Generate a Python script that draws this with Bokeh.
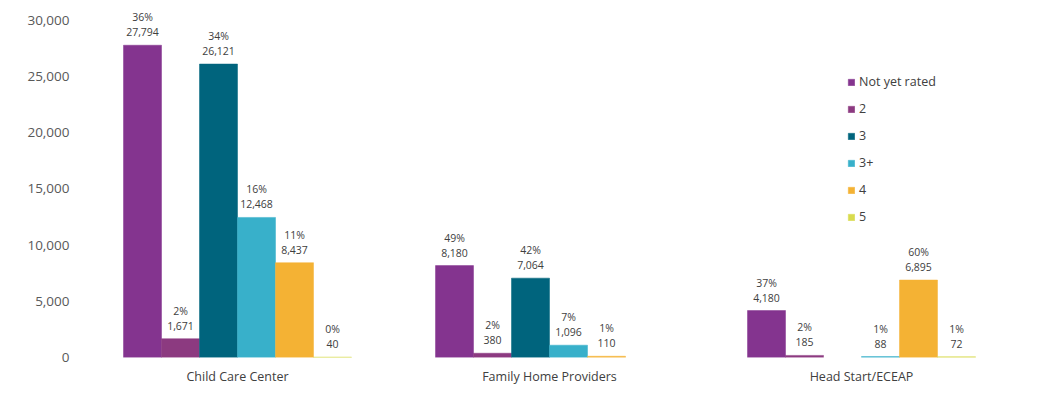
from bokeh.plotting import figure
from bokeh.models import (ColumnDataSource, FactorRange, Range1d, Legend, LegendItem,
                          FixedTicker, NumeralTickFormatter)
from bokeh.transform import dodge
from bokeh.core.properties import value
from bokeh.embed import file_html
from bokeh.resources import INLINE

groups = ["Child Care Center", "Family Home Providers", "Head Start/ECEAP"]
series = ["Not yet rated", "2", "3", "3+", "4", "5"]
not_yet_rated = [27794, 8180, 4180]
rating_2 = [1671, 380, 185]
rating_3 = [26121, 7064, 0]
rating_3plus = [12468, 1096, 88]
rating_4 = [8437, 110, 6895]
rating_5 = [40, 0, 72]
y_ticks = [0, 5000, 10000, 15000, 20000, 25000, 30000]

colors = ["#84348F", "#8C3A80", "#00647D", "#38B0CA", "#F4B234", "#D8DB4E"]
values_by_series = [not_yet_rated, rating_2, rating_3, rating_3plus, rating_4, rating_5]

totals = [sum(v[i] for v in values_by_series) for i in range(len(groups))]

FONT = "Open Sans"
p = figure(width=1023, height=387, output_backend="svg", toolbar_location=None,
           x_range=FactorRange(*groups, range_padding=0),
           y_range=Range1d(0, 30887),
           min_border_left=81, min_border_right=6, min_border_top=10, min_border_bottom=29)

bar_w = 38 / 312
items = []
for k, (name, vals, col) in enumerate(zip(series, values_by_series, colors)):
    off = (k - 2.5) * bar_w
    pct = [f"{round(100 * v / t)}%" if v > 0 else "" for v, t in zip(vals, totals)]
    num = [f"{v:,}" if v > 0 else "" for v in vals]
    la = [1.0 if v > 0 else 0.0 for v in vals]
    src = ColumnDataSource(dict(g=groups, v=vals, pct=pct, num=num, la=la))
    r = p.vbar(x=dodge("g", off, range=p.x_range), top="v", width=bar_w, bottom=0,
               source=src, fill_color=col, line_color=col, line_width=0.5,
               line_alpha="la")
    items.append(LegendItem(label=name, renderers=[r]))
    p.text(x=dodge("g", off, range=p.x_range), y="v", text="num", source=src,
           text_align="center", text_baseline="middle", y_offset=-13,
           text_font=value(FONT), text_font_size="10.5px", text_color="#404040")
    p.text(x=dodge("g", off, range=p.x_range), y="v", text="pct", source=src,
           text_align="center", text_baseline="middle", y_offset=-28,
           text_font=value(FONT), text_font_size="10.5px", text_color="#404040")

legend = Legend(items=items, location=(766, 131), padding=0, margin=0,
                glyph_width=8, glyph_height=8, label_height=19, spacing=8,
                label_standoff=4, border_line_color=None, background_fill_alpha=0,
                label_text_font=FONT, label_text_font_size="12.5px", label_text_color="#404040")
p.add_layout(legend)

p.xgrid.grid_line_color = None
p.ygrid.grid_line_color = None
p.outline_line_color = None

p.yaxis.ticker = FixedTicker(ticks=y_ticks)
p.yaxis.formatter = NumeralTickFormatter(format="0,0")
p.yaxis.axis_line_color = None
p.yaxis.major_tick_line_color = None
p.yaxis.minor_tick_line_color = None
p.yaxis.major_label_standoff = 6
p.yaxis.major_label_text_font = FONT
p.yaxis.major_label_text_font_size = "13.5px"
p.yaxis.major_label_text_color = "#595959"

p.xaxis.axis_line_color = None
p.xaxis.major_tick_line_color = None
p.xaxis.minor_tick_line_color = None
p.xaxis.major_label_standoff = 4
p.xaxis.major_label_text_font = FONT
p.xaxis.major_label_text_font_size = "12.5px"
p.xaxis.major_label_text_color = "#404040"

open("out.html", "w").write(file_html(p, INLINE))
